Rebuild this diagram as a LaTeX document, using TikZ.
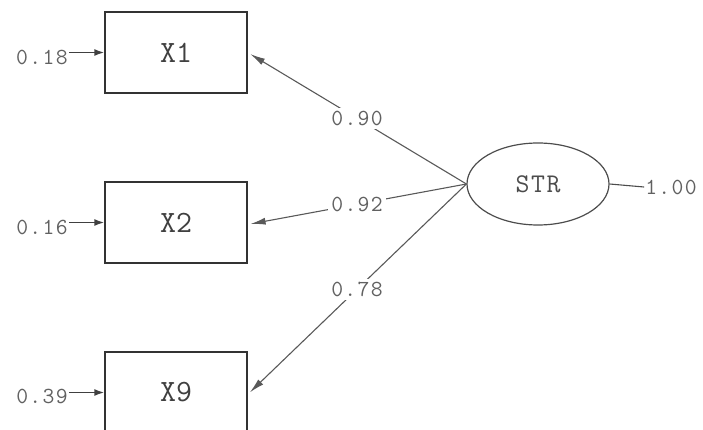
\documentclass[tikz,border=0pt]{standalone}
\usepackage{fontspec}
\newfontfamily\lisrel[LetterSpace=6]{Latin Modern Mono}
\newfontfamily\lisrelvar{Latin Modern Mono}
\usetikzlibrary{arrows.meta,positioning,shapes.geometric}

\begin{document}
\begin{tikzpicture}[x=1pt,y=-1pt,node distance=170pt,
  obs/.style={draw=black!80,line width=1.3pt,minimum width=142pt,minimum height=81pt,
    text=black!75,font=\lisrelvar\fontsize{31}{31}\selectfont},
  lat/.style={ellipse,draw=black!70,line width=1.2pt,minimum width=142pt,minimum height=82pt,
    text=black!70,font=\lisrel\fontsize{27}{27}\selectfont},
  num/.style={text=black!62,font=\lisrel\fontsize{23}{23}\selectfont,inner sep=1pt},
  lbl/.style={num,fill=white,inner sep=3pt},
  load/.style={draw=black!65,line width=1.1pt,-{Latex[length=15pt,width=7pt]},shorten >=3pt},
  err/.style={draw=black!75,line width=1.6pt,-{Latex[length=10pt,width=7pt]}}]

  \useasboundingbox (0,0) rectangle (703,430);
  \clip (0,0) rectangle (703,430);

% define the observed and latent variables
  \node[obs]  (x1) at (176,52.5) {X1};
  \node[obs]  (x2) [below of=x1] {X2};
  \node[obs]  (x9) [below of=x2] {X9};
  \node[lat]  (str) at (538,184) {STR};

% error variances
  \node[num]  (e1) at (42,57) {0.18};
  \node[num]  (e2) at (42,227) {0.16};
  \node[num]  (e9) at (42,396) {0.39};
  \node[num]  (v)  at (671,187) {1.00};

% define the links
  \path (str.west) edge[load] node[lbl] {0.90} (x1.east)
        (str.west) edge[load] node[lbl] {0.92} ([yshift=-2pt]x2.east)
        (str.west) edge[load] node[lbl] {0.78} ([yshift=-2pt]x9.east);
  \draw[err] (e1.east |- x1) -- (x1.west);
  \draw[err] (e2.east |- x2) -- (x2.west);
  \draw[err] (e9.east |- x9) -- (x9.west);
  \draw[draw=black!70,line width=1.1pt] (str.east) -- (v.west);

\end{tikzpicture}
\end{document}
